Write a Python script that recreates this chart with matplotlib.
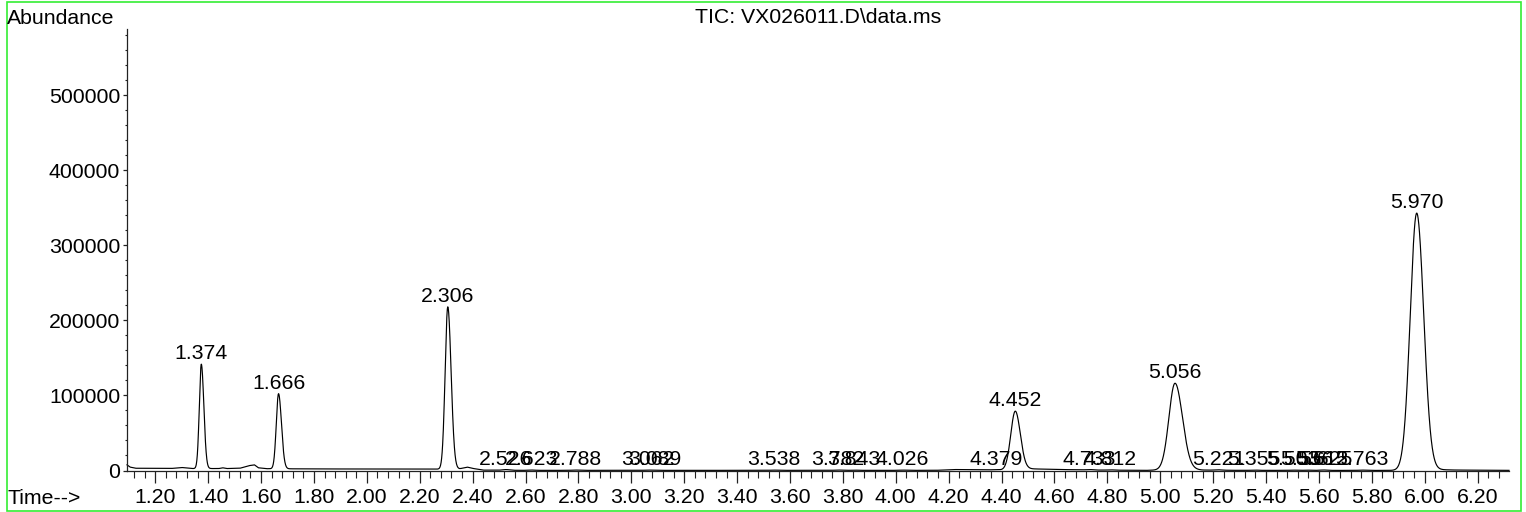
import numpy as np
import matplotlib
matplotlib.use("Agg")
import matplotlib.pyplot as plt
from matplotlib.patches import Rectangle
from matplotlib.ticker import MultipleLocator, FormatStrFormatter

plt.rcParams['font.family'] = ['Liberation Sans', 'DejaVu Sans']
FS = 15.3

title = "TIC: VX026011.D\\data.ms"
y_label = "Abundance"
x_label = "Time-->"

# main peaks (retention time, height above baseline, left/right widths)
peak_rt = [1.374, 1.666, 2.306, 4.452, 5.056, 5.970]
peak_height = [139000, 100000, 216000, 77500, 115000, 342000]
peak_sigma_left = [0.0075, 0.0085, 0.0100, 0.0170, 0.0230, 0.0245]
peak_sigma_right = [0.0095, 0.0110, 0.0125, 0.0190, 0.0280, 0.0265]

# small integrated peaks near the baseline
minor_rt = [2.526, 2.623, 2.788, 3.062, 3.089, 3.538, 3.782, 3.843, 4.026,
            4.379, 4.733, 4.812, 5.221, 5.355, 5.503, 5.556, 5.612, 5.625, 5.763]
minor_height = [900, 400, 400, 300, 300, 300, 400, 300, 300,
                500, 600, 400, 500, 400, 300, 300, 300, 300, 400]
minor_sigma = [0.012] * len(minor_rt)

# baseline (time, abundance)
baseline_t = [1.093, 1.105, 1.125, 1.26, 1.30, 1.34, 1.44, 1.455, 1.47, 1.52,
              1.555, 1.575, 1.59, 1.62, 1.80, 2.10, 2.28, 2.35, 2.38, 2.40,
              2.44, 2.60, 4.15, 4.22, 4.30, 4.40, 4.50, 4.62, 4.75, 4.95,
              5.10, 5.16, 5.30, 5.90, 6.03, 6.12, 6.319]
baseline_v = [7500, 4500, 3000, 2700, 4000, 2600, 2600, 3600, 2600, 3000,
              6500, 7500, 3600, 2400, 2100, 1900, 1800, 2200, 4500, 2800,
              500, 200, 200, 1300, 1000, 700, 2300, 1300, 600, 200,
              1600, 600, 200, 100, 1300, 600, 200]

x_lim = (1.093, 6.319)
y_lim = (0, 587500)

t = np.linspace(x_lim[0], x_lim[1], 8000)
trace = np.interp(t, baseline_t, baseline_v)
for rt, h, sl, sr in zip(peak_rt, peak_height, peak_sigma_left, peak_sigma_right):
    s = np.where(t < rt, sl, sr)
    trace = trace + h * np.exp(-0.5 * ((t - rt) / s) ** 2)
for rt, h, s in zip(minor_rt, minor_height, minor_sigma):
    trace = trace + h * np.exp(-0.5 * ((t - rt) / s) ** 2)

W, H = 1526, 512
fig = plt.figure(figsize=(W / 100, H / 100), dpi=100)
ax_l, ax_r, ax_t, ax_b = 127, 1509, 29.3, 470.5
ax = fig.add_axes([ax_l / W, 1 - ax_b / H, (ax_r - ax_l) / W, (ax_b - ax_t) / H])

ax.plot(t, trace, color='black', lw=0.85, clip_on=False)
ax.set_xlim(*x_lim)
ax.set_ylim(*y_lim)

for s in ('top', 'right'):
    ax.spines[s].set_visible(False)
for s in ('left', 'bottom'):
    ax.spines[s].set_color('#222222')
    ax.spines[s].set_linewidth(0.9)

ax.xaxis.set_major_locator(MultipleLocator(0.2))
ax.xaxis.set_minor_locator(MultipleLocator(0.04))
ax.xaxis.set_major_formatter(FormatStrFormatter('%.2f'))
ax.yaxis.set_major_locator(MultipleLocator(100000))
ax.yaxis.set_minor_locator(MultipleLocator(20000))
ax.yaxis.set_major_formatter(FormatStrFormatter('%d'))

ax.tick_params(axis='x', which='major', direction='out', length=8.6, width=0.9,
               pad=3.8, labelsize=FS, color='#222222')
ax.tick_params(axis='x', which='minor', direction='out', length=4.8, width=0.8,
               color='#222222')
ax.tick_params(axis='y', which='major', direction='out', length=3.0, width=0.9,
               pad=2.0, labelsize=FS, color='#222222')
ax.tick_params(axis='y', which='minor', direction='out', length=1.5, width=0.8,
               color='#222222')

# peak labels
all_rt = peak_rt + minor_rt
for rt in all_rt:
    i = int(np.argmin(np.abs(t - rt)))
    ax.annotate(f"{rt:.3f}", xy=(rt, trace[i]), xytext=(0, 3.6),
                textcoords='offset points', ha='center', va='baseline',
                fontsize=FS, annotation_clip=False)

fig.text((ax_l + ax_r) / 2 / W, 1 - 17.5 / H, title, ha='center', va='center', fontsize=FS)
fig.text(7 / W, 1 - 18 / H, y_label, ha='left', va='center', fontsize=FS)
fig.text(8 / W, 1 - 498 / H, x_label, ha='left', va='center', fontsize=FS)

fig.patches.append(Rectangle((6.5 / W, 1.5 / H), (1521 - 6.5) / W, (510.5 - 1.5) / H,
                             transform=fig.transFigure, fill=False,
                             edgecolor='#33ee33', lw=1.2))

fig.savefig('out.png', dpi=100)
